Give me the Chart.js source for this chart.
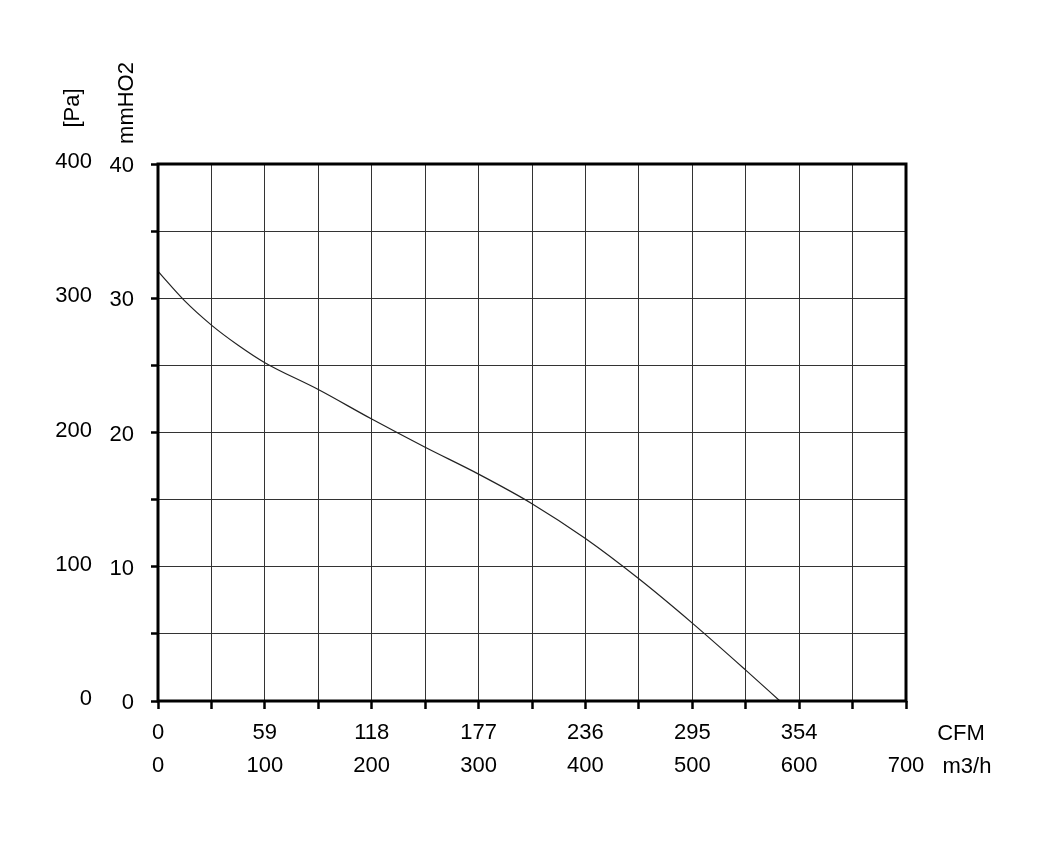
<!DOCTYPE html>
<html>
<head>
<meta charset="utf-8">
<script src="https://cdn.jsdelivr.net/npm/chart.js@4.4.0/dist/chart.umd.min.js"></script>
<style>
  html, body { margin: 0; padding: 0; background: #ffffff; }
  #wrap { width: 1050px; height: 851px; }
</style>
</head>
<body>
<div id="wrap"><canvas id="c" width="1050" height="851"></canvas></div>
<script>
// ---- data ----
const flowM3h = [0, 25, 50, 75, 100, 150, 200, 250, 300, 350, 400, 450, 500, 550, 582];
const pressurePa = [320, 298, 280, 265, 252, 232, 210, 189, 169, 147, 121, 91, 58, 23, 0];
const xTicksM3h = ['0', '100', '200', '300', '400', '500', '600', '700'];
const xTicksCFM = ['0', '59', '118', '177', '236', '295', '354', ''];
const yTicksPa = ['0', '100', '200', '300', '400'];
const yTicksMmH2O = ['0', '10', '20', '30', '40'];
const xUnitCFM = 'CFM';
const xUnitM3h = 'm3/h';
const yTitlePa = '[Pa]';
const yTitleMm = 'mmHO2';

const FONT = "'Liberation Sans', Arial, sans-serif";
const FS = 22;
const points = flowM3h.map((x, i) => ({ x: x, y: pressurePa[i] }));

const extras = {
  id: 'extras',
  afterDraw(chart) {
    const ctx = chart.ctx;
    const a = chart.chartArea;
    ctx.save();
    // frame
    ctx.strokeStyle = '#000';
    ctx.lineWidth = 3;
    ctx.strokeRect(a.left, a.top, a.right - a.left, a.bottom - a.top);
    // unit labels at right of x axis
    ctx.fillStyle = '#000';
    ctx.font = FS + 'px ' + FONT;
    ctx.textAlign = 'center';
    ctx.textBaseline = 'middle';
    ctx.fillText(xUnitCFM, a.right + 55, 734);
    ctx.fillText(xUnitM3h, a.right + 61, 767);
    // rotated y titles
    ctx.save();
    ctx.translate(73, 108);
    ctx.rotate(-Math.PI / 2);
    ctx.fillText(yTitlePa, 0, 0);
    ctx.restore();
    ctx.save();
    ctx.translate(127, 103);
    ctx.rotate(-Math.PI / 2);
    ctx.fillText(yTitleMm, 0, 0);
    ctx.restore();
    ctx.restore();
  }
};

new Chart(document.getElementById('c'), {
  type: 'line',
  data: {
    datasets: [{
      data: points,
      yAxisID: 'y',
      borderColor: '#222',
      borderWidth: 1.2,
      pointRadius: 0,
      cubicInterpolationMode: 'monotone',
      fill: false
    }]
  },
  options: {
    responsive: false,
    animation: false,
    events: [],
    layout: { padding: { top: 164, right: 144, bottom: 0, left: 0 } },
    plugins: { legend: { display: false }, tooltip: { enabled: false } },
    scales: {
      x: {
        type: 'linear',
        min: 0, max: 700,
        afterFit(s) { s.height = 150; },
        border: { display: false },
        grid: { color: '#333', lineWidth: 1, tickLength: 8, tickWidth: 2.5, tickColor: '#000' },
        ticks: {
          stepSize: 50,
          autoSkip: false,
          maxRotation: 0,
          padding: 7,
          color: '#000',
          font: { family: FONT, size: FS, lineHeight: 1.5 },
          callback(v) {
            if (v % 100 !== 0) return '';
            const i = v / 100;
            return [xTicksCFM[i], xTicksM3h[i]];
          }
        }
      },
      y: {
        position: 'left',
        weight: 10,
        min: 0, max: 400,
        afterFit(s) { s.width = 100; },
        border: { display: false },
        grid: { display: false, drawTicks: false },
        ticks: {
          stepSize: 100,
          padding: 8,
          labelOffset: -2,
          color: '#000',
          font: { family: FONT, size: FS },
          callback(v) { return yTicksPa[v / 100]; }
        }
      },
      y2: {
        position: 'left',
        weight: 0,
        min: 0, max: 40,
        afterFit(s) { s.width = 58; },
        border: { display: false },
        grid: { color: '#333', lineWidth: 1, tickLength: 7, tickWidth: 2.5, tickColor: '#000' },
        ticks: {
          stepSize: 5,
          padding: 17,
          labelOffset: 2,
          color: '#000',
          font: { family: FONT, size: FS },
          callback(v) { return v % 10 === 0 ? yTicksMmH2O[v / 10] : ''; }
        }
      }
    }
  },
  plugins: [extras]
});
</script>
</body>
</html>
